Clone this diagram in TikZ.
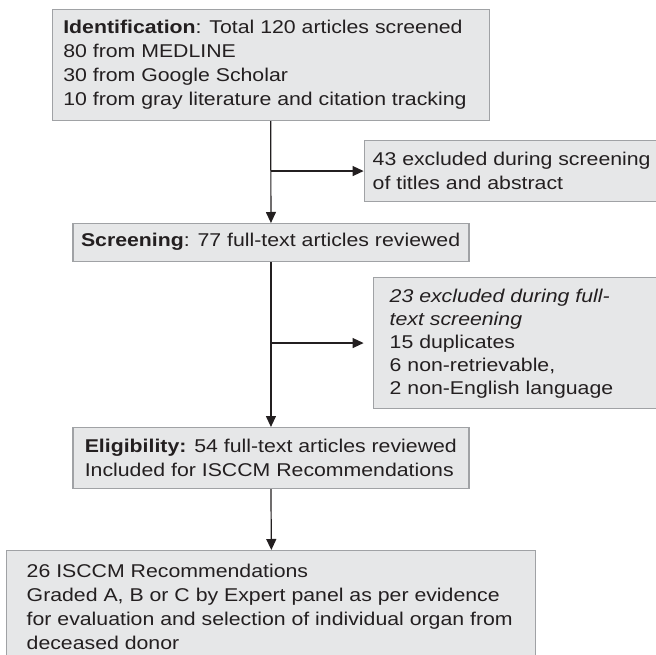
\documentclass[tikz,border=0pt]{standalone}
\usepackage{fontspec}
\setmainfont[FakeStretch=1.15]{Liberation Sans}
\usetikzlibrary{arrows.meta}
\definecolor{boxfill}{HTML}{E6E7E8}
\definecolor{boxline}{HTML}{A0A2A5}
\definecolor{ink}{HTML}{231F20}
\tikzset{
  box/.style={draw=boxline, fill=boxfill, line width=1.1pt, inner sep=0pt, anchor=north west},
  txt/.style={anchor=north west, inner sep=0pt, align=left, text=ink,
    font=\fontsize{18.5}{24}\selectfont},
  arr/.style={draw=ink, line width=1.2pt, -{Triangle[length=11pt,width=10pt]}}
}
\begin{document}
\begin{tikzpicture}[x=1pt,y=-1pt]
\useasboundingbox (0,0) rectangle (656,655);
\clip (0,0) rectangle (656,655);
% boxes
\node[box, minimum width=436.8pt, minimum height=111pt] (b1) at (51.8,9) {};
\node[box, minimum width=320pt, minimum height=61pt] (b2) at (363.6,140) {};
\node[box, minimum width=396pt, minimum height=38pt] (b3) at (72.4,223) {};
\node[box, minimum width=310pt, minimum height=131pt] (b4) at (373,277) {};
\node[box, minimum width=396pt, minimum height=61pt] (b5) at (72.4,427) {};
\node[box, minimum width=529pt, minimum height=120pt] (b6) at (6.3,550) {};
% texts
\node[txt] (t1) at (63.1,20) {\textbf{Identification}: Total 120 articles screened\\80 from MEDLINE\\30 from Google Scholar\\10 from gray literature and citation tracking};
\node[txt] (t2) at (372.5,151.6) {43 excluded during screening\\of titles and abstract};
\node[txt] (t3) at (80.8,232.4) {\textbf{Screening}: 77 full-text articles reviewed};
\node[txt, font=\fontsize{18.5}{23}\selectfont] (t4) at (389.5,288.6) {\textit{23 excluded during full-}\\\textit{text screening}\\15 duplicates\\6 non-retrievable,\\2 non-English language};
\node[txt] (t5) at (84.6,438.4) {\textbf{Eligibility:} 54 full-text articles reviewed\\Included for ISCCM Recommendations};
\node[txt] (t6) at (26.5,563.6) {26 ISCCM Recommendations\\Graded A, B or C by Expert panel as per evidence\\for evaluation and selection of individual organ from\\deceased donor};
% connectors
\draw[arr] (b1.south) -- (b3.north);
\draw[arr] (b1.south |- b2.west) -- (b2.west);
\draw[arr] (b3.south) -- (b5.north);
\draw[arr] (b3.south |- b4.west) -- ([xshift=-9.4pt]b4.west);
\draw[arr] (b5.south) -- (b6.north);
\end{tikzpicture}
\end{document}
